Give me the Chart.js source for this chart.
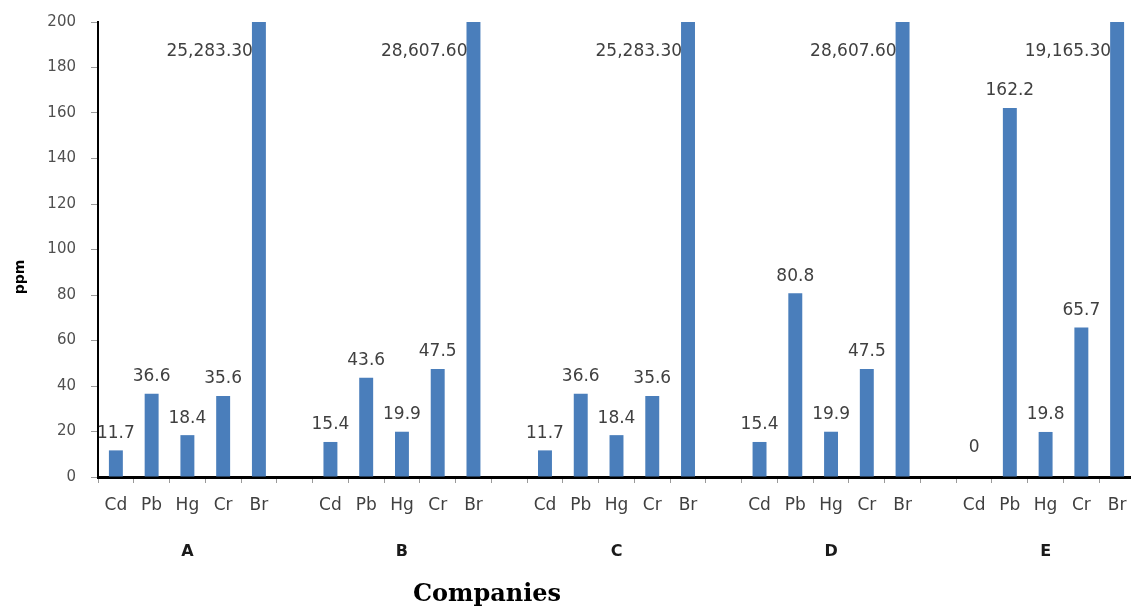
<!DOCTYPE html>
<html>
<head>
<meta charset="utf-8">
<script src="https://cdn.jsdelivr.net/npm/chart.js@4.4.1/dist/chart.umd.min.js"></script>
<style>
  html, body { margin: 0; padding: 0; background: #ffffff; overflow: hidden; }
  #wrap { width: 1136px; height: 610px; position: relative; }
</style>
</head>
<body>
<div id="wrap"><canvas id="chart"></canvas></div>
<script>
// Companies and the elements measured for each of them
const companies = ['A', 'B', 'C', 'D', 'E'];
const elements = ['Cd', 'Pb', 'Hg', 'Cr', 'Br'];

// Concentrations (ppm), one array per company, in element order
const valuesA = [11.7, 36.6, 18.4, 35.6, 25283.30];
const valuesB = [15.4, 43.6, 19.9, 47.5, 28607.60];
const valuesC = [11.7, 36.6, 18.4, 35.6, 25283.30];
const valuesD = [15.4, 80.8, 19.9, 47.5, 28607.60];
const valuesE = [0, 162.2, 19.8, 65.7, 19165.30];
const seriesByCompany = [valuesA, valuesB, valuesC, valuesD, valuesE];

// Y axis range and ticks
const yMin = 0;
const yMax = 200;
const yStep = 20;

// Flatten into one category axis with an empty slot between companies
const slotLabels = [];
const slotValues = [];
const slotCompany = [];
seriesByCompany.forEach((vals, ci) => {
  elements.forEach((el, ei) => {
    slotLabels.push(el);
    slotValues.push(vals[ei]);
    slotCompany.push(ci);
  });
  if (ci < seriesByCompany.length - 1) {
    slotLabels.push('');
    slotValues.push(null);
    slotCompany.push(-1);
  }
});

const NUM_FONT = '"DejaVu Sans", "Liberation Sans", sans-serif';
const TEXT_COLOR = '#404040';

function formatValue(v) {
  if (v >= 1000) {
    return v.toLocaleString('en-US', { minimumFractionDigits: 2, maximumFractionDigits: 2 });
  }
  return String(v);
}

// Value labels, company letters and axis titles
const annotations = {
  id: 'annotations',
  afterDatasetsDraw(chart) {
    const { ctx, chartArea } = chart;
    const meta = chart.getDatasetMeta(0);
    const xScale = chart.scales.x;
    ctx.save();

    // value labels
    ctx.font = '17px ' + NUM_FONT;
    ctx.fillStyle = TEXT_COLOR;
    ctx.textBaseline = 'middle';
    meta.data.forEach((bar, i) => {
      const v = slotValues[i];
      if (v === null || v === undefined) return;
      const text = formatValue(v);
      if (v > yMax) {
        // off-scale bars: label sits beside the clipped bar
        ctx.textAlign = 'right';
        ctx.fillText(text, bar.x - bar.width / 2 + 1, chartArea.top + 30);
      } else {
        ctx.textAlign = 'center';
        const lift = v === 0 ? 29 : 17;
        ctx.fillText(text, bar.x, bar.y - lift);
      }
    });

    // company letters under each group
    ctx.font = 'bold 16px ' + NUM_FONT;
    ctx.fillStyle = '#1a1a1a';
    ctx.textAlign = 'center';
    companies.forEach((c, ci) => {
      const idx = slotCompany.indexOf(ci) + 2;
      ctx.fillText(c, xScale.getPixelForValue(idx), chartArea.bottom + 75);
    });

    // x axis title
    ctx.font = 'bold 24px "DejaVu Serif", "Liberation Serif", serif';
    ctx.fillStyle = '#000000';
    ctx.fillText('Companies', 487, 595);

    // y axis title
    ctx.translate(20, 277);
    ctx.rotate(-Math.PI / 2);
    ctx.font = 'bold 14px ' + NUM_FONT;
    ctx.fillStyle = '#000000';
    ctx.fillText('ppm', 0, 0);
    ctx.restore();
  }
};

new Chart(document.getElementById('chart'), {
  type: 'bar',
  data: {
    labels: slotLabels,
    datasets: [{
      data: slotValues,
      backgroundColor: '#4a7ebb',
      borderWidth: 0,
      barPercentage: 0.39,
      categoryPercentage: 1.0
    }]
  },
  options: {
    responsive: true,
    maintainAspectRatio: false,
    animation: false,
    layout: { padding: { top: 22, right: 1, left: 0, bottom: 0 } },
    plugins: {
      legend: { display: false },
      tooltip: { enabled: false }
    },
    scales: {
      x: {
        grid: {
          display: true,
          offset: true,
          drawOnChartArea: false,
          drawTicks: true,
          tickLength: 6,
          color: '#9a9a9a'
        },
        border: { display: true, color: '#000000', width: 3 },
        ticks: {
          autoSkip: false,
          maxRotation: 0,
          padding: 12,
          color: TEXT_COLOR,
          font: { family: NUM_FONT, size: 17 }
        },
        afterFit(scale) {
          scale.height = 133;
          scale.paddingLeft = 0;
          scale.paddingRight = 0;
        }
      },
      y: {
        min: yMin,
        max: yMax,
        grid: {
          drawOnChartArea: false,
          drawTicks: true,
          tickLength: 7,
          color: '#9a9a9a'
        },
        border: { display: true, color: '#000000', width: 2 },
        ticks: {
          stepSize: yStep,
          padding: 15,
          color: '#505050',
          font: { family: NUM_FONT, size: 15 }
        },
        afterFit(scale) {
          scale.width = 98;
          scale.paddingTop = 0;
          scale.paddingBottom = 0;
        }
      }
    }
  },
  plugins: [annotations]
});
</script>
</body>
</html>
